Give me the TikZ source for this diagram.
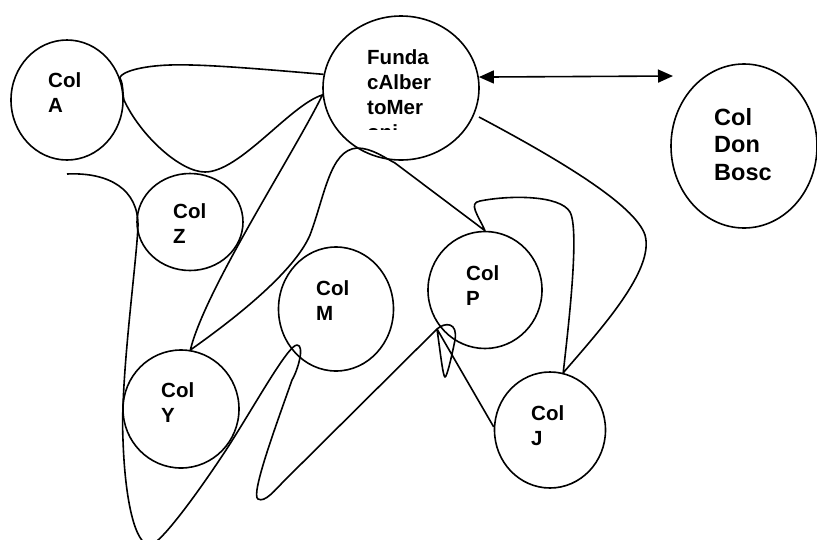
\documentclass[tikz,border=0pt]{standalone}
\usepackage{fontspec}
\setmainfont{Liberation Sans}
\usetikzlibrary{shapes.geometric,arrows.meta}
\tikzset{
  col/.style={draw, ellipse, line width=1.6pt, inner sep=0pt},
  lbl/.style={anchor=base west, inner sep=0pt, font=\bfseries\fontsize{20.5}{25}\selectfont},
  biglbl/.style={anchor=base west, inner sep=0pt, font=\bfseries\fontsize{23.5}{27.5}\selectfont},
  conn/.style={line width=1.6pt, line join=round},
  dblarrow/.style={>={Triangle[length=15pt,width=13pt]}, <->}
}
\newcommand{\lines}[1]{\begin{tabular}[t]{@{}l@{}}#1\end{tabular}}
\begin{document}
\begin{tikzpicture}[x=1pt,y=-1pt]
\useasboundingbox (0,0) rectangle (817,539);
% circles
\node[col, minimum width=112pt, minimum height=120pt] (a) at (67,100) {};
\node[col, minimum width=156pt, minimum height=144pt] (fund) at (401,88) {};
\node[col, minimum width=146pt, minimum height=164pt] (bosc) at (744,146) {};
\node[col, minimum width=106pt, minimum height=97pt] (z) at (190,222) {};
\node[col, minimum width=116pt, minimum height=118pt] (y) at (181,409) {};
\node[col, minimum width=115pt, minimum height=124pt] (m) at (336,309) {};
\node[col, minimum width=114pt, minimum height=117pt] (p) at (485,290) {};
\node[col, minimum width=111pt, minimum height=116pt] (j) at (550,430) {};
% labels
\node[lbl] (ta) at (48,87) {\lines{Col\\A}};
\begin{scope}
  \clip (355,30) rectangle (480,129.5);
  \node[lbl] (tfund) at (367,64) {\lines{Funda\\cAlber\\toMer\\oni}};
\end{scope}
\node[biglbl] (tbosc) at (714,125) {\lines{Col\\Don\\Bosc}};
\node[lbl] (tz) at (173,218) {\lines{Col\\Z}};
\node[lbl] (ty) at (161,397) {\lines{Col\\Y}};
\node[lbl] (tm) at (316,295) {\lines{Col\\M}};
\node[lbl] (tp) at (466,280) {\lines{Col\\P}};
\node[lbl] (tj) at (531,420) {\lines{Col\\J}};
% arrow
\coordinate (arrowend) at (673,76);
\draw[conn, dblarrow] (fund.8) -- (arrowend);
% big curve
\coordinate (fundr) at (479,117);
\draw[conn] (fund.170) .. controls (250,68) and (200,64) .. (170,65)
  .. controls (140,66) and (122,72) .. (a.23)
  .. controls (124,86) and (122,92) .. (124,100)
  .. controls (140,135) and (180,172) .. (205,172)
  .. controls (240,172) and (290,105) .. (fund.185)
  .. controls (290,160) and (205,290) .. (y.81)
  .. controls (240,315) and (295,270) .. (310,235)
  .. controls (325,195) and (330,150) .. (357,148)
  .. controls (372,148) and (385,158) .. (395,163)
  -- (p.90)
  .. controls (478,215) and (468,203) .. (480,201)
  .. controls (510,195) and (560,195) .. (570,212)
  .. controls (580,230) and (568,330) .. (j.77)
  .. controls (600,330) and (655,270) .. (645,235)
  .. controls (635,205) and (560,160) .. (fundr);
% second curve
\coordinate (free) at (67,174);
\coordinate (pk) at (437,329);
\draw[conn] (free) .. controls (110,172) and (138,190) .. (138,225)
  .. controls (137,260) and (120,380) .. (123,440)
  .. controls (125,500) and (135,545) .. (150,545)
  .. controls (160,545) and (200,490) .. (228,447)
  .. controls (255,405) and (288,345) .. (297,345)
  .. controls (305,345) and (298,370) .. (292,380)
  .. controls (278,420) and (250,495) .. (258,499)
  .. controls (265,503) and (275,490) .. (285,480)
  -- (pk)
  .. controls (445,322) and (458,322) .. (455,340)
  .. controls (452,355) and (447,377) .. (445,377)
  .. controls (443,377) and (440,350) .. (pk)
  -- (j.177);
\end{tikzpicture}
\end{document}
